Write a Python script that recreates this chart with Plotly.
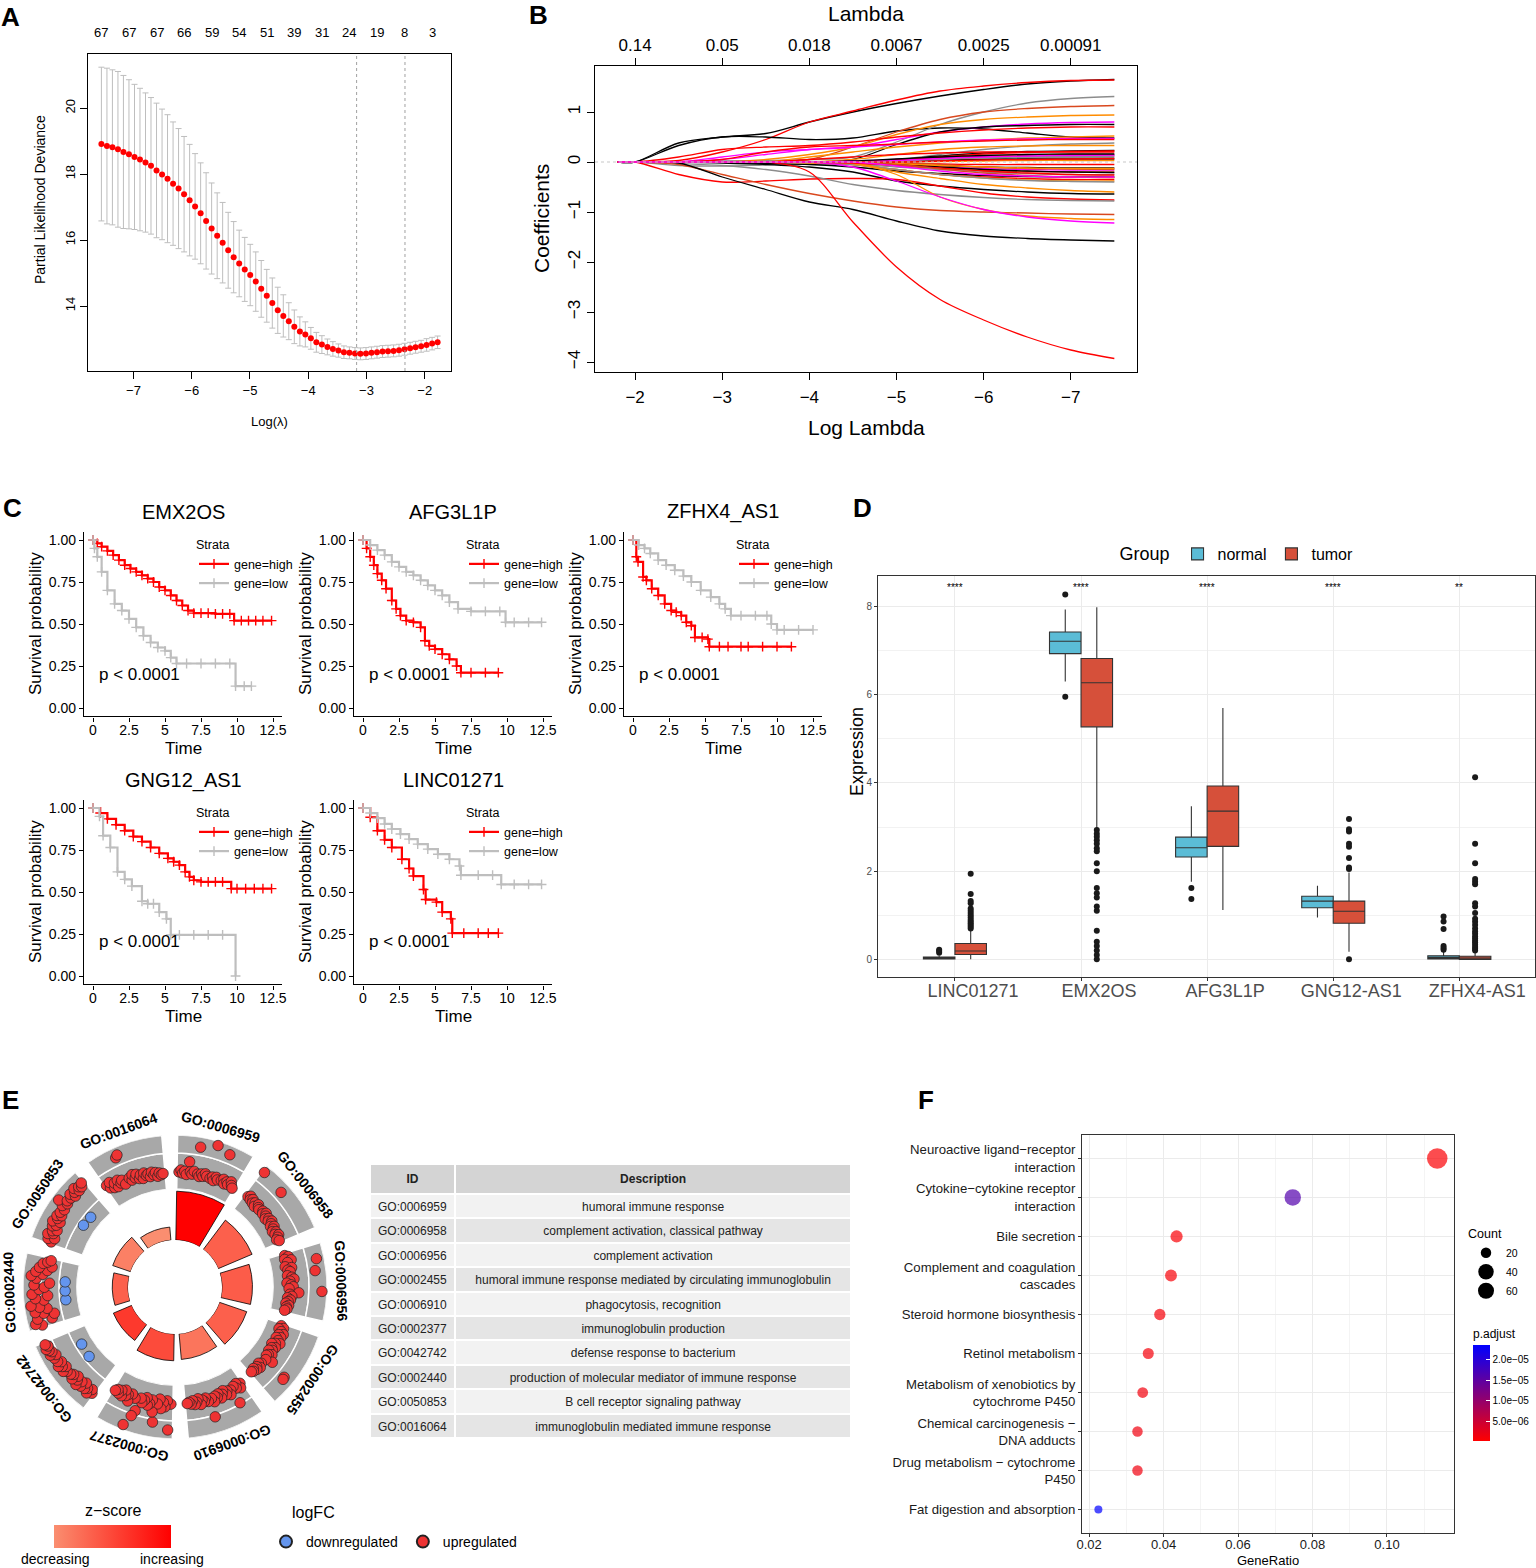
import numpy as np
import plotly.graph_objects as go

W, H = 1536, 1568
SANS = "Liberation Sans, Arial, sans-serif"


def fx(px):
    return px / W


def fy(py):
    return 1 - py / H


# ---------------- A: cross-validated partial likelihood deviance
A_LOGLAM = [-7.55, -7.455, -7.361, -7.266, -7.172, -7.077, -6.982, -6.888, -6.793, -6.699,
            -6.604, -6.509, -6.415, -6.32, -6.226, -6.131, -6.036, -5.942, -5.847, -5.753,
            -5.658, -5.563, -5.469, -5.374, -5.28, -5.185, -5.09, -4.996, -4.901, -4.807,
            -4.712, -4.617, -4.523, -4.428, -4.334, -4.239, -4.144, -4.05, -3.955, -3.861,
            -3.766, -3.671, -3.577, -3.482, -3.388, -3.293, -3.198, -3.104, -3.009, -2.915,
            -2.82, -2.725, -2.631, -2.536, -2.442, -2.347, -2.252, -2.158, -2.063, -1.969,
            -1.874, -1.78]
A_DEV = [18.91, 18.85, 18.81, 18.75, 18.67, 18.60, 18.52, 18.44, 18.35, 18.25,
         18.11, 17.99, 17.86, 17.71, 17.56, 17.39, 17.21, 17.02, 16.81, 16.58,
         16.35, 16.13, 15.92, 15.69, 15.48, 15.29, 15.11, 14.94, 14.74, 14.52,
         14.31, 14.09, 13.87, 13.70, 13.54, 13.37, 13.23, 13.14, 13.02, 12.90,
         12.83, 12.76, 12.70, 12.65, 12.60, 12.58, 12.56, 12.55, 12.56, 12.58,
         12.60, 12.62, 12.63, 12.64, 12.66, 12.69, 12.72, 12.75, 12.78, 12.82,
         12.86, 12.90]
A_SD = [2.33, 2.36, 2.35, 2.36, 2.32, 2.26, 2.20, 2.16, 2.11, 2.07,
        2.04, 1.98, 1.94, 1.87, 1.82, 1.75, 1.69, 1.60, 1.53, 1.46,
        1.38, 1.30, 1.22, 1.15, 1.08, 1.01, 0.97, 0.93, 0.90, 0.86,
        0.80, 0.76, 0.70, 0.64, 0.56, 0.51, 0.44, 0.38, 0.33, 0.30,
        0.27, 0.24, 0.22, 0.20, 0.19, 0.18, 0.18, 0.18, 0.18, 0.18,
        0.18, 0.18, 0.18, 0.18, 0.18, 0.18, 0.18, 0.18, 0.18, 0.19,
        0.19, 0.19]
A_NZERO = [67, 67, 67, 66, 59, 54, 51, 39, 31, 24, 19, 8, 3]
A_VLINES = [-3.17, -2.34]

# ---------------- B: coefficient paths
B_KNOTS = [-1.8, -2.0, -2.5, -3.0, -3.5, -4.0, -4.5, -5.0, -5.5, -6.0, -6.5, -7.0, -7.5]
B_PATHS = [
    [0, 0, 0.38, 0.5, 0.57, 0.8, 1.0, 1.17, 1.32, 1.45, 1.56, 1.62, 1.65],
    [0, 0, 0.03, 0.2, 0.45, 0.8, 1.02, 1.24, 1.42, 1.52, 1.59, 1.63, 1.64],
    [0, 0, 0.33, 0.5, 0.5, 0.45, 0.48, 0.62, 0.68, 0.66, 0.58, 0.5, 0.48],
    [0, 0, 0, 0.02, 0.03, 0.05, 0.1, 0.4, 0.75, 1.0, 1.18, 1.27, 1.31],
    [0, 0, 0, 0, 0, 0.05, 0.3, 0.6, 0.85, 1.0, 1.07, 1.11, 1.13],
    [0, 0, 0, 0, 0.05, 0.15, 0.3, 0.55, 0.75, 0.85, 0.9, 0.93, 0.94],
    [0, 0, 0, 0.1, 0.2, 0.25, 0.3, 0.45, 0.6, 0.7, 0.76, 0.79, 0.8],
    [0, 0, 0, 0, 0, 0, 0.05, 0.35, 0.6, 0.7, 0.73, 0.75, 0.75],
    [0, 0, 0.1, 0.25, 0.3, 0.33, 0.4, 0.5, 0.58, 0.64, 0.68, 0.7, 0.7],
    [0, 0, 0, 0, 0, 0.1, 0.2, 0.3, 0.38, 0.44, 0.48, 0.5, 0.52],
    [0, 0, 0, 0.05, 0.15, 0.25, 0.3, 0.35, 0.4, 0.44, 0.46, 0.47, 0.47],
    [0, 0, 0, 0.05, 0.2, 0.3, 0.33, 0.36, 0.4, 0.42, 0.44, 0.45, 0.45],
    [0, 0, 0, 0, 0, 0, 0, 0.05, 0.15, 0.25, 0.32, 0.36, 0.38],
    [0, 0, 0, 0, 0, 0, 0.05, 0.15, 0.25, 0.3, 0.32, 0.33, 0.33],
    [0, 0, 0, 0, 0, 0, 0, 0.05, 0.12, 0.18, 0.21, 0.22, 0.23],
    [0, 0, 0, 0, 0, 0.05, 0.1, 0.15, 0.18, 0.2, 0.2, 0.2, 0.2],
    [0, 0, 0, 0, 0, 0, 0, 0.03, 0.08, 0.12, 0.14, 0.15, 0.15],
    [0, 0, 0, 0, 0, 0, 0.02, 0.05, 0.08, 0.1, 0.11, 0.12, 0.12],
    [0, 0, 0, 0, 0, 0, 0, 0, 0.03, 0.06, 0.08, 0.09, 0.09],
    [0, 0, 0, 0, 0, 0, 0, 0.02, 0.04, 0.05, 0.06, 0.06, 0.06],
    [0, 0, 0, 0, 0, 0, 0, 0, 0.01, 0.02, 0.03, 0.03, 0.03],
    [0, 0, 0, 0, 0, 0, 0, -0.02, -0.04, -0.05, -0.05, -0.05, -0.05],
    [0, 0, 0, 0, 0, 0, -0.02, -0.05, -0.08, -0.1, -0.11, -0.12, -0.12],
    [0, 0, 0, 0, 0, 0, 0, -0.05, -0.1, -0.13, -0.15, -0.16, -0.16],
    [0, 0, 0, 0, 0, 0, -0.03, -0.08, -0.13, -0.17, -0.19, -0.2, -0.2],
    [0, 0, -0.07, -0.08, -0.06, -0.04, -0.05, -0.1, -0.15, -0.2, -0.23, -0.25, -0.25],
    [0, 0, 0, 0, -0.03, -0.05, -0.1, -0.18, -0.23, -0.27, -0.29, -0.3, -0.3],
    [0, 0, 0, 0, 0, 0, -0.05, -0.15, -0.25, -0.3, -0.33, -0.35, -0.35],
    [0, 0, 0, 0, 0, -0.02, -0.05, -0.15, -0.25, -0.32, -0.36, -0.38, -0.38],
    [0, 0, 0, 0, 0, 0, -0.05, -0.15, -0.25, -0.32, -0.37, -0.39, -0.4],
    [0, 0, 0, 0, 0, 0, -0.02, -0.2, -0.33, -0.45, -0.52, -0.57, -0.6],
    [0, 0, 0, -0.02, -0.05, -0.1, -0.2, -0.38, -0.48, -0.55, -0.6, -0.63, -0.64],
    [0, 0, -0.25, -0.4, -0.38, -0.34, -0.33, -0.35, -0.48, -0.62, -0.7, -0.74, -0.76],
    [0, 0, -0.03, -0.07, -0.15, -0.28, -0.45, -0.57, -0.65, -0.71, -0.75, -0.77, -0.78],
    [0, 0, -0.05, -0.25, -0.45, -0.63, -0.78, -0.9, -0.97, -1.0, -1.02, -1.04, -1.05],
    [0, 0, 0, 0, 0, 0, -0.03, -0.25, -0.7, -0.95, -1.08, -1.13, -1.15],
    [0, 0, 0, 0, 0, 0, -0.1, -0.38, -0.7, -0.95, -1.1, -1.18, -1.22],
    [0, 0, -0.02, -0.3, -0.55, -0.8, -0.95, -1.18, -1.38, -1.48, -1.53, -1.56, -1.58],
    [0, 0, 0, 0, 0, -0.2, -1.2, -2.1, -2.75, -3.16, -3.5, -3.76, -3.93],
    [0, 0, 0, 0, 0, 0, 0, 0.04, 0.1, 0.16, 0.19, 0.21, 0.22],
    [0, 0, 0, 0, 0, 0, 0, -0.04, -0.1, -0.15, -0.18, -0.2, -0.21],
    [0, 0, 0, 0, 0, 0, 0, 0, -0.05, -0.1, -0.13, -0.14, -0.15],
    [0, 0, 0, 0, 0, 0, 0, 0.02, 0.05, 0.08, 0.1, 0.11, 0.12],
    [0, 0, 0, 0, 0, 0, -0.02, -0.06, -0.12, -0.18, -0.22, -0.25, -0.26],
    [0, 0, 0, 0, 0, 0, 0, 0.03, 0.07, 0.1, 0.12, 0.13, 0.14],
    [0, 0, 0, 0, 0, 0, 0.02, 0.06, 0.1, 0.13, 0.15, 0.16, 0.16],
    [0, 0, 0, 0, 0, 0, 0, -0.03, -0.07, -0.1, -0.12, -0.13, -0.13],
    [0, 0, 0, 0, 0, 0, 0, 0, 0.02, 0.04, 0.05, 0.06, 0.07],
    [0, 0, 0, 0, 0, 0, 0, -0.05, -0.14, -0.22, -0.27, -0.3, -0.31],
    [0, 0, 0, 0, 0, 0, 0, -0.08, -0.18, -0.25, -0.28, -0.3, -0.3],
]
BK, RD, GY, OR, MG, OR2 = "black", "#FF0000", "#8C8C8C", "#FF8C00", "#FF00FF", "#D9481E"
B_COLORS = [BK, RD, BK, GY, OR2, OR, MG, BK, RD, OR, MG, RD, GY, OR, BK, RD, OR2, MG, GY, BK,
            OR, RD, BK, MG, OR2, GY, BK, RD, OR, GY, OR, BK, RD, GY, OR2, OR, MG, BK, RD,
            RD, BK, OR2, GY, RD, MG, BK, OR, RD, OR2, MG]
B_LAMBDA_TICKS = [-2, -3, -4, -5, -6, -7]

# ---------------- C: Kaplan-Meier curves
C_GENES = ["EMX2OS", "AFG3L1P", "ZFHX4_AS1", "GNG12_AS1", "LINC01271"]
C_HIGH_T = [
    [0, 0.3, 0.6, 1.0, 1.4, 1.8, 2.2, 2.6, 3.0, 3.4, 3.8, 4.2, 4.6, 5.0, 5.4, 5.8, 6.2, 6.6, 7.0, 7.5,
     8.0, 8.5, 9.0, 9.5, 9.8, 10.3, 10.8, 11.3, 11.8, 12.4],
    [0, 0.25, 0.5, 0.75, 1.0, 1.3, 1.6, 2.0, 2.3, 2.6, 3.0, 3.5, 4.0, 4.3, 4.6, 5.0, 5.5, 6.0, 6.5, 6.8,
     7.5, 8.5, 9.4],
    [0, 0.23, 0.35, 0.7, 0.93, 1.3, 1.75, 2.2, 2.65, 3.0, 3.35, 3.7, 4.05, 4.3, 4.8, 5.2, 5.3, 6.0, 6.6,
     7.5, 8.0, 9.0, 10.0, 11.0],
    [0, 0.5, 1.0, 1.6, 2.2, 2.8, 3.4, 4.0, 4.6, 5.2, 5.6, 6.0, 6.4, 6.7, 7.0, 7.5, 8.0, 8.5, 9.0, 9.6,
     10.0, 10.6, 11.2, 11.8, 12.4],
    [0, 0.5, 1.0, 1.5, 2.0, 2.7, 3.2, 3.5, 4.2, 4.35, 5.1, 5.5, 6.1, 6.2, 7.0, 8.0, 8.7, 9.4],
]
C_HIGH_S = [
    [1.0, 0.98, 0.96, 0.935, 0.91, 0.88, 0.85, 0.83, 0.81, 0.79, 0.77, 0.75, 0.72, 0.70, 0.67, 0.64,
     0.61, 0.58, 0.565, 0.565, 0.565, 0.56, 0.56, 0.56, 0.52, 0.52, 0.52, 0.52, 0.52, 0.52],
    [1.0, 0.95, 0.90, 0.85, 0.80, 0.76, 0.71, 0.64, 0.59, 0.55, 0.52, 0.51, 0.48, 0.40, 0.37, 0.35,
     0.32, 0.29, 0.25, 0.21, 0.21, 0.21, 0.21],
    [1.0, 0.90, 0.87, 0.78, 0.76, 0.71, 0.67, 0.62, 0.58, 0.57, 0.55, 0.51, 0.49, 0.42, 0.42, 0.41,
     0.365, 0.365, 0.365, 0.365, 0.365, 0.365, 0.365, 0.365],
    [1.0, 0.97, 0.935, 0.90, 0.865, 0.83, 0.80, 0.765, 0.73, 0.70, 0.68, 0.66, 0.62, 0.59, 0.57, 0.56,
     0.56, 0.56, 0.56, 0.52, 0.52, 0.52, 0.52, 0.52, 0.52],
    [1.0, 0.945, 0.865, 0.81, 0.765, 0.695, 0.64, 0.595, 0.515, 0.455, 0.44, 0.38, 0.34, 0.255, 0.255,
     0.255, 0.255, 0.255],
]
C_LOW_T = [
    [0, 0.1, 0.3, 0.6, 1.0, 1.5, 2.0, 2.5, 3.0, 3.5, 4.0, 4.5, 5.0, 5.4, 5.8, 6.5, 7.5, 8.5, 9.5, 9.9,
     10.5, 11.0],
    [0, 0.5, 1.0, 1.5, 2.0, 2.5, 3.0, 3.5, 4.0, 4.5, 5.0, 5.5, 6.0, 6.6, 7.5, 8.5, 9.5, 9.9, 10.5, 11.5,
     12.4],
    [0, 0.4, 0.8, 1.2, 1.75, 2.3, 2.9, 3.5, 4.05, 4.7, 5.4, 6.0, 6.4, 6.8, 7.5, 8.5, 9.3, 9.6, 10.0,
     10.5, 11.5, 12.5],
    [0, 0.45, 0.7, 1.2, 1.7, 2.2, 2.7, 3.4, 3.8, 4.2, 4.6, 5.1, 5.4, 6.0, 7.0, 8.0, 9.0, 9.9],
    [0, 0.5, 1.0, 1.5, 2.0, 2.6, 3.2, 3.8, 4.5, 5.2, 6.0, 6.7, 6.8, 8.0, 9.0, 9.6, 10.5, 11.5, 12.4],
]
C_LOW_S = [
    [1.0, 0.95, 0.90, 0.81, 0.70, 0.62, 0.58, 0.53, 0.48, 0.43, 0.39, 0.36, 0.34, 0.30, 0.265, 0.265,
     0.265, 0.265, 0.265, 0.13, 0.13, 0.13],
    [1.0, 0.97, 0.94, 0.91, 0.87, 0.84, 0.81, 0.79, 0.76, 0.73, 0.70, 0.67, 0.63, 0.59, 0.575, 0.575,
     0.575, 0.51, 0.51, 0.51, 0.51],
    [1.0, 0.97, 0.95, 0.92, 0.88, 0.85, 0.82, 0.785, 0.75, 0.70, 0.66, 0.62, 0.59, 0.55, 0.55, 0.55,
     0.55, 0.50, 0.465, 0.465, 0.465, 0.465],
    [1.0, 0.95, 0.835, 0.765, 0.62, 0.575, 0.535, 0.445, 0.43, 0.43, 0.38, 0.34, 0.245, 0.245, 0.245,
     0.245, 0.245, 0.0],
    [1.0, 0.97, 0.94, 0.905, 0.875, 0.845, 0.815, 0.785, 0.755, 0.725, 0.695, 0.655, 0.60, 0.60, 0.60,
     0.545, 0.545, 0.545, 0.545],
]
C_PVAL = "p < 0.0001"

# ---------------- D: expression boxplots
D_GENES = ["LINC01271", "EMX2OS", "AFG3L1P", "GNG12-AS1", "ZFHX4-AS1"]
D_NORMAL_Q1 = [0.01, 6.93, 2.32, 1.17, 0.01]
D_NORMAL_MED = [0.03, 7.21, 2.53, 1.32, 0.04]
D_NORMAL_Q3 = [0.05, 7.42, 2.77, 1.43, 0.08]
D_NORMAL_LO = [0.0, 6.30, 1.76, 0.95, 0.0]
D_NORMAL_HI = [0.08, 7.93, 3.47, 1.67, 0.18]
D_TUMOR_Q1 = [0.11, 5.27, 2.56, 0.82, 0.0]
D_TUMOR_MED = [0.19, 6.27, 3.36, 1.09, 0.03]
D_TUMOR_Q3 = [0.36, 6.82, 3.93, 1.32, 0.07]
D_TUMOR_LO = [0.0, 2.95, 1.12, 0.17, 0.0]
D_TUMOR_HI = [0.66, 7.98, 5.70, 1.97, 0.17]
D_NORMAL_OUT = [[0.15, 0.19, 0.22], [8.27, 5.95], [1.62, 1.37], [], [0.22, 0.26, 0.3, 0.69, 0.86, 0.97]]
D_TUMOR_OUT = [
    [0.7, 0.74, 0.78, 0.82, 0.86, 0.9, 0.95, 1.0, 1.05, 1.1, 1.15, 1.27, 1.32, 1.48, 1.94],
    [2.93, 2.85, 2.78, 2.7, 2.62, 2.52, 2.45, 2.18, 2.0, 1.62, 1.5, 1.4, 1.2, 1.1, 0.65, 0.4, 0.3, 0.2,
     0.1, 0.0],
    [],
    [0.0, 2.05, 2.08, 2.3, 2.55, 2.62, 2.9, 2.95, 3.18],
    [0.2, 0.24, 0.28, 0.33, 0.38, 0.42, 0.47, 0.52, 0.58, 0.63, 0.7, 0.78, 0.85, 0.92, 1.05, 1.2, 1.27,
     1.7, 1.76, 1.82, 2.18, 2.62, 4.13],
]
D_SIGNIF = ["****", "****", "****", "****", "**"]
D_SIGNIF_Y = 8.44

# ---------------- E: GO circle + table
E_IDS = ["GO:0006959", "GO:0006958", "GO:0006956", "GO:0002455", "GO:0006910",
         "GO:0002377", "GO:0042742", "GO:0002440", "GO:0050853", "GO:0016064"]
E_DESC = ["humoral immune response", "complement activation, classical pathway",
          "complement activation", "humoral immune response mediated by circulating immunoglobulin",
          "phagocytosis, recognition", "immunoglobulin production", "defense response to bacterium",
          "production of molecular mediator of immune response", "B cell receptor signaling pathway",
          "immunoglobulin mediated immune response"]
E_NEGLOGP = [9.3, 7.0, 5.8, 5.5, 4.9, 5.1, 3.8, 3.0, 3.6, 2.5]
E_ZSCORE = [8.6, 5.9, 6.0, 5.9, 5.3, 6.5, 7.0, 5.9, 5.0, 4.6]
E_LFC = [
    [0.4, 0.6, 0.3, 0.5, 0.2, 1.45, 0.5, 0.3, 0.6, 3.0, 0.4, 0.2, 0.5, 0.3, 0.6, 0.4, 3.55, 0.3, 0.5,
     0.2, 0.6, 0.4, 3.1, 0.5, 0.7, 0.3, 0.6, 0.4, 0.8, 0.5, 0.3],
    [3.3, 0.5, 0.7, 0.4, 0.6, 0.3, 0.5, 0.2, 0.6, 0.4, 0.3, 3.0, 0.5, 0.3, 0.6, 0.4, 0.2, 0.5, 0.3,
     0.6, 0.4, 0.2, 0.5, 0.3, 0.1, 0.4, 0.2, 0.5, 0.3, 0.1, 0.3],
    [0.3, 0.6, 0.2, 0.8, 0.4, 3.2, 0.1, 0.7, 0.3, 0.5, 2.9, 0.2, 0.6, 0.8, 0.4, 0.1, 0.5, 0.7, 0.3,
     3.47, 1.25, 0.4, 0.6, 0.2, 0.5, 0.3, 0.1, 0.4, 0.2, 0.3, 0.1],
    [0.2, 0.5, 0.1, 0.4, 0.7, 0.3, 0.6, 0.2, 0.5, 0.8, 0.4, 0.1, 0.6, 0.3, 0.5, 0.2, 0.7, 0.4, 0.3,
     1.16, 0.5, 2.95, 3.0, 0.4, 0.2, 0.6, 0.3, 0.5, 0.2, 0.4, 0.3],
    [0.5, 0.9, 0.3, 0.7, 0.4, 2.1, 0.6, 1.0, 0.5, 0.8, 0.3, 0.6, 0.9, 0.4, 0.7, 0.5, 1.0, 0.6, 2.4,
     0.8, 0.4, 0.7, 0.5, 0.9, 0.3, 0.6, 0.8, 0.4, 0.7, 0.5, 0.6],
    [0.6, 3.1, 0.3, 0.9, 0.5, 1.1, 0.2, 0.7, 2.5, 1.54, 0.4, 0.8, 1.0, 0.3, 0.6, 0.9, 0.5, 1.83, 2.4,
     0.7, 3.47, 0.4, 1.2, 0.6, 0.8, 0.3, 1.0, 0.5, 0.9, 0.6, 0.8],
    [2.3, 2.0, 2.6, 2.2, 2.4, 1.9, 2.5, 2.1, 2.7, 2.3, 2.0, 2.6, 2.2, 2.4, -0.05, 2.5, 2.8, 2.3, 2.6,
     2.9, 2.4, 2.7, -0.15, 2.8, 2.5, 3.0, 2.7, 2.9, 3.1, 2.8, 3.0],
    [2.6, 3.2, 1.5, 2.9, 1.2, 2.2, 3.0, 1.8, 2.5, 3.3, -0.1, 2.0, 2.8, 1.6, 3.1, -0.1, 2.4, 1.9, 2.9,
     1.4, -0.1, 2.7, 3.2, 2.1, 2.8, 1.7, 2.5, 1.3, 2.2, 1.8, 1.5],
    [2.0, 2.4, 1.8, 2.6, 2.1, 2.3, 1.9, 2.5, 2.2, 2.7, 2.0, 2.4, 2.6, 2.2, 2.5, -0.05, 2.3, 2.7, 3.3,
     2.4, 2.6, -0.15, 2.5, 2.8, 2.3, 2.6, 2.9, 2.4, 2.7, 2.5, 2.8],
    [1.1, 0.7, 1.2, 0.5, 0.9, 0.4, 1.0, 0.6, 0.8, 0.3, 3.0, 3.2, 0.7, 0.4, 0.9, 0.5, 0.8, 0.3, 0.6,
     0.2, 0.7, 0.4, 0.5, 0.2, 0.6, 0.3, 0.5, 0.1, 0.4, 0.2, 0.3],
]
E_LFC_RANGE = [-1.25, 3.95]

# ---------------- F: KEGG dot plot
F_TERMS = ["Neuroactive ligand−receptor<br>interaction", "Cytokine−cytokine receptor<br>interaction",
           "Bile secretion", "Complement and coagulation<br>cascades", "Steroid hormone biosynthesis",
           "Retinol metabolism", "Metabolism of xenobiotics by<br>cytochrome P450",
           "Chemical carcinogenesis −<br>DNA adducts", "Drug metabolism − cytochrome<br>P450",
           "Fat digestion and absorption"]
F_RATIO = [0.1135, 0.0747, 0.0435, 0.0420, 0.0390, 0.0359, 0.0344, 0.0330, 0.0330, 0.0225]
F_COUNT = [68, 45, 26, 25, 23, 22, 21, 20, 20, 13]
F_PADJ = [6.0e-7, 1.6e-5, 8.0e-7, 9.0e-7, 1.0e-6, 1.2e-6, 1.4e-6, 1.5e-6, 1.5e-6, 2.35e-5]
F_COUNT_BREAKS = [20, 40, 60]
F_PADJ_TICKS = [5e-6, 1e-5, 1.5e-5, 2e-5]

fig = go.Figure()
annotations = []
shapes = []
layout = dict(width=W, height=H, margin=dict(l=0, r=0, t=0, b=0), template="none",
              paper_bgcolor="white", plot_bgcolor="rgba(0,0,0,0)",
              font=dict(family=SANS, color="black"), showlegend=True)


def text(px, py, s, size, angle=0, xanchor="center", color="black"):
    annotations.append(dict(x=fx(px), y=fy(py), xref="paper", yref="paper", text=s, showarrow=False,
                            font=dict(size=size, family=SANS, color=color), textangle=angle,
                            xanchor=xanchor, yanchor="middle"))


def base_axis(**kw):
    d = dict(showgrid=False, zeroline=False, showline=True, linecolor="black", linewidth=1,
             ticks="outside", tickcolor="black", ticklen=7)
    d.update(kw)
    return d


# panel letters
for letter, px, py in [("A", 10, 17), ("B", 538, 15), ("C", 12, 508), ("D", 862, 508),
                       ("E", 10, 1100), ("F", 926, 1100)]:
    text(px, py, "<b>%s</b>" % letter, 26)

# ================= A
fig.add_trace(go.Scatter(x=A_LOGLAM, y=A_DEV, mode="markers", xaxis="x", yaxis="y",
                         marker=dict(color="red", size=6),
                         error_y=dict(type="data", array=A_SD, color="#BEBEBE", thickness=1, width=3),
                         showlegend=False))
layout["xaxis"] = base_axis(domain=[fx(88), fx(451)], range=[-7.78, -1.55], anchor="y", mirror=True,
                            tickvals=[-7, -6, -5, -4, -3, -2], tickfont=dict(size=13))
layout["yaxis"] = base_axis(domain=[fy(371), fy(54)], range=[12.03, 21.64], anchor="x", mirror=True,
                            tickvals=[14, 16, 18, 20], tickangle=-90, tickfont=dict(size=13))
for v in A_VLINES:
    shapes.append(dict(type="line", xref="x", yref="y domain", x0=v, x1=v, y0=0, y1=1,
                       line=dict(color="#A0A0A0", width=1, dash="dot")))
for xv, n in zip(A_LOGLAM[::5], A_NZERO):
    annotations.append(dict(x=xv, y=fy(32), xref="x", yref="paper", text=str(n), showarrow=False,
                            yanchor="middle", font=dict(size=13)))
text(269, 422, "Log(λ)", 13)
text(40, 200, "Partial Likelihood Deviance", 14, angle=-90)

# ================= B
for path, col in zip(B_PATHS, B_COLORS):
    fig.add_trace(go.Scatter(x=B_KNOTS, y=path, mode="lines", xaxis="x2", yaxis="y2",
                             line=dict(color=col, width=1.3, shape="spline", smoothing=0.9),
                             showlegend=False, hoverinfo="skip"))
fig.add_trace(go.Scatter(x=[None], y=[None], xaxis="x3", yaxis="y2", showlegend=False))
layout["xaxis2"] = base_axis(domain=[fx(595), fx(1137)], range=[-1.54, -7.76], anchor="y2", mirror=True,
                             tickvals=B_LAMBDA_TICKS, tickfont=dict(size=17), ticklabelstandoff=3)
layout["yaxis2"] = base_axis(domain=[fy(372), fy(66)], range=[-4.2, 1.92], anchor="x2", mirror=True,
                             tickvals=[-4, -3, -2, -1, 0, 1], tickangle=-90, tickfont=dict(size=17))
layout["xaxis3"] = base_axis(overlaying="x2", side="top", anchor="y2", range=[-1.54, -7.76], showline=False,
                             tickvals=B_LAMBDA_TICKS,
                             ticktext=["%.2g" % np.exp(v) for v in B_LAMBDA_TICKS], tickfont=dict(size=17))
shapes.append(dict(type="line", xref="x2 domain", yref="y2", x0=0, x1=1, y0=0, y1=0,
                   line=dict(color="#C8C8C8", width=1.2, dash="dot")))
text(866, 14, "Lambda", 21)
text(866, 427, "Log Lambda", 21)
text(541, 219, "Coefficients", 21, angle=-90)

# ================= C
for k, gene in enumerate(C_GENES):
    c, r = k % 3, k // 3
    ax = 4 + k
    lg = "legend%d" % (2 + k)
    for tt, ss, col, name in [(C_HIGH_T[k], C_HIGH_S[k], "#FF0000", "gene=high"),
                              (C_LOW_T[k], C_LOW_S[k], "#BEBEBE", "gene=low")]:
        fig.add_trace(go.Scatter(x=tt, y=ss, mode="lines+markers", xaxis="x%d" % ax, yaxis="y%d" % ax,
                                 line=dict(color=col, width=2.2, shape="hv"), name=name, legend=lg,
                                 marker=dict(symbol="cross-thin", size=7, line=dict(width=1.4, color=col))))
    layout["xaxis%d" % ax] = base_axis(domain=[fx(84 + 270 * c), fx(282 + 270 * c)], range=[-0.625, 13.125],
                                       anchor="y%d" % ax, ticklen=4, linewidth=1.2,
                                       tickvals=[0, 2.5, 5, 7.5, 10, 12.5],
                                       ticktext=["0", "2.5", "5", "7.5", "10", "12.5"],
                                       tickfont=dict(size=14), ticklabelstandoff=-3)
    layout["yaxis%d" % ax] = base_axis(domain=[fy(716.4 + 268 * r), fy(531.6 + 268 * r)], range=[-0.05, 1.05],
                                       anchor="x%d" % ax, ticklen=4, linewidth=1.2,
                                       tickvals=[0, 0.25, 0.5, 0.75, 1],
                                       ticktext=["0.00", "0.25", "0.50", "0.75", "1.00"],
                                       tickfont=dict(size=14))
    layout[lg] = dict(x=fx(194 + 270 * c), y=fy(533 + 268 * r), xanchor="left", yanchor="top",
                      bgcolor="rgba(0,0,0,0)", font=dict(size=12.5), itemwidth=30,
                      title=dict(text="Strata", font=dict(size=12.5)), tracegroupgap=0)
    text(183 + 270 * c, 512 + 268 * r, gene, 20)
    text(183 + 270 * c, 748 + 268 * r, "Time", 17)
    text(35 + 270 * c, 624 + 268 * r, "Survival probability", 17, angle=-90)
    text(97 + 270 * c, 674 + 268 * r, C_PVAL, 17, xanchor="left")

# ================= D
D_OFF = 0.125
for grp, off, col, q1, med, q3, lo, hi, outs in [
        ("normal", -D_OFF, "#5BBCD6", D_NORMAL_Q1, D_NORMAL_MED, D_NORMAL_Q3, D_NORMAL_LO, D_NORMAL_HI,
         D_NORMAL_OUT),
        ("tumor", D_OFF, "#D6503A", D_TUMOR_Q1, D_TUMOR_MED, D_TUMOR_Q3, D_TUMOR_LO, D_TUMOR_HI,
         D_TUMOR_OUT)]:
    pos = [i + off for i in range(len(D_GENES))]
    fig.add_trace(go.Box(x=pos, q1=q1, median=med, q3=q3, lowerfence=lo, upperfence=hi, width=0.25,
                         fillcolor=col, line=dict(color="#333333", width=1.1), whiskerwidth=0,
                         boxpoints=False, name=grp, xaxis="x9", yaxis="y9", legend="legend"))
    ox = [i + off for i, o in enumerate(outs) for _ in o]
    oy = [v for o in outs for v in o]
    fig.add_trace(go.Scatter(x=ox, y=oy, mode="markers", xaxis="x9", yaxis="y9", showlegend=False,
                             marker=dict(color="#1A1A1A", size=6)))
for i, s in enumerate(D_SIGNIF):
    annotations.append(dict(x=i, y=D_SIGNIF_Y, xref="x9", yref="y9", text=s, showarrow=False,
                            font=dict(size=10, color="black")))
layout["xaxis9"] = dict(domain=[fx(878), fx(1535)], range=[-0.61, 4.6], anchor="y9", tickvals=list(range(5)),
                        ticktext=D_GENES, showgrid=True, gridcolor="#EBEBEB", zeroline=False, showline=True,
                        mirror=True, linecolor="#333333", linewidth=1, ticks="outside", ticklen=3,
                        tickcolor="#333333", tickfont=dict(size=18, color="#4D4D4D"),
                        ticklabelshift=18, ticklabelstandoff=-6)
layout["yaxis9"] = dict(domain=[fy(977), fy(576)], range=[-0.40, 8.69], anchor="x9", tickvals=[0, 2, 4, 6, 8],
                        showgrid=True, gridcolor="#EBEBEB", zeroline=False, showline=True, mirror=True,
                        linecolor="#333333", linewidth=1, ticks="outside", ticklen=3, tickcolor="#333333",
                        tickfont=dict(size=10, color="#4D4D4D"),
                        minor=dict(dtick=1, showgrid=True, gridcolor="#F2F2F2", gridwidth=0.6))
layout["legend"] = dict(orientation="h", x=fx(1238), xanchor="center", y=fy(537), yanchor="top",
                        font=dict(size=16), bgcolor="rgba(0,0,0,0)", itemwidth=30,
                        title=dict(text="Group", font=dict(size=18)))
text(857, 752, "Expression", 18, angle=-90)

# ================= E
E_CX, E_CY, E_R = 175, 1287, 152
theta_c = [36 * i + 16 for i in range(len(E_IDS))]
polar_dom = dict(x=[fx(E_CX - E_R), fx(E_CX + E_R)], y=[fy(E_CY + E_R), fy(E_CY - E_R)])
ang = dict(rotation=90, direction="clockwise", visible=False)
layout["polar"] = dict(domain=polar_dom, hole=47 / 152, bgcolor="rgba(0,0,0,0)",
                       radialaxis=dict(range=[0, 20], visible=False), angularaxis=ang)
layout["polar2"] = dict(domain=polar_dom, hole=98 / 152, bgcolor="rgba(0,0,0,0)",
                        radialaxis=dict(range=E_LFC_RANGE, visible=False), angularaxis=ang)
fig.add_trace(go.Barpolar(theta=theta_c, r=E_NEGLOGP, base=0, width=30, subplot="polar", showlegend=False,
                          marker=dict(color=E_ZSCORE, colorscale=[[0, "#FA8E70"], [1, "#FF0000"]],
                                      cmin=min(E_ZSCORE), cmax=max(E_ZSCORE),
                                      line=dict(color="black", width=0.8), showscale=True,
                                      colorbar=dict(orientation="h", x=fx(113), xanchor="center",
                                                    y=fy(1548), yanchor="bottom", len=117, lenmode="pixels",
                                                    thickness=23, xpad=0, ypad=0, outlinewidth=0,
                                                    showticklabels=False, ticks=""))))
band = (E_LFC_RANGE[1] - E_LFC_RANGE[0]) / 3
for j in range(3):
    fig.add_trace(go.Barpolar(theta=theta_c, r=[band] * len(theta_c),
                              base=[E_LFC_RANGE[0] + j * band] * len(theta_c), width=30, subplot="polar2",
                              marker=dict(color="#A8A8A8", line=dict(color="white", width=1.5)),
                              showlegend=False, hoverinfo="skip"))
pts = {"down": ([], []), "up": ([], [])}
for i, vals in enumerate(E_LFC):
    n = len(vals)
    for k, v in enumerate(vals):
        th = 36 * i + 2 + k * 28 / (n - 1)
        key = "down" if v < 0 else "up"
        pts[key][0].append(th)
        pts[key][1].append(v)
for key, col, name in [("up", "#EE3333", "upregulated"), ("down", "#6495ED", "downregulated")]:
    fig.add_trace(go.Scatterpolar(theta=pts[key][0], r=pts[key][1], mode="markers", subplot="polar2",
                                  name=name, legend="legend7",
                                  marker=dict(color=col, size=10.5, line=dict(color="#222222", width=0.7))))
for gid, th in zip(E_IDS, theta_c):
    t = np.radians(th)
    ta = th if th <= 180 else th - 360
    text(E_CX + 166 * np.sin(t), E_CY - 166 * np.cos(t), "<b>%s</b>" % gid, 14, angle=ta)
text(113, 1510, "z−score", 16)
text(55, 1559, "decreasing", 14)
text(172, 1559, "increasing", 14)
text(313, 1512, "logFC", 16)
layout["legend7"] = dict(orientation="h", x=fx(266), xanchor="left", y=fy(1526), yanchor="top",
                         traceorder="reversed", itemsizing="constant", bgcolor="rgba(0,0,0,0)",
                         font=dict(size=14))

row_cols = ["#F2F2F2" if i % 2 == 0 else "#E5E5E5" for i in range(len(E_IDS))]
fig.add_trace(go.Table(domain=dict(x=[fx(370), fx(851)], y=[fy(1438), fy(1164)]), columnwidth=[85, 395],
                       header=dict(values=["<b>ID</b>", "<b>Description</b>"], fill_color="#D4D4D4",
                                   align="center", height=20, line=dict(color="white", width=2),
                                   font=dict(size=12, color="#222222")),
                       cells=dict(values=[E_IDS, E_DESC], fill_color=[row_cols, row_cols],
                                  align=["left", "center"], height=24.4, line=dict(color="white", width=2),
                                  font=dict(size=12, color="#222222"))))


# ================= F
def size_px(c, cmin=min(F_COUNT), cmax=max(F_COUNT), dmin=8.0, dmax=20.5):
    return float(np.sqrt(dmin ** 2 + (c - cmin) / (cmax - cmin) * (dmax ** 2 - dmin ** 2)))


fig.add_trace(go.Scatter(x=F_RATIO, y=F_TERMS, mode="markers", xaxis="x10", yaxis="y10", showlegend=False,
                         marker=dict(size=[size_px(c) for c in F_COUNT], color=F_PADJ,
                                     colorscale=[[0, "#FF0000"], [1, "#0000FF"]], cmin=2.5e-7, cmax=2.35e-5,
                                     line=dict(width=0), showscale=True,
                                     colorbar=dict(x=fx(1473), xanchor="left", y=fy(1441), yanchor="bottom",
                                                   len=115, lenmode="pixels", thickness=17, xpad=0, ypad=0,
                                                   outlinewidth=0, tickvals=F_PADJ_TICKS,
                                                   ticktext=["5.0e−06", "1.0e−05", "1.5e−05", "2.0e−05"],
                                                   ticks="inside", tickcolor="white", ticklen=4,
                                                   tickfont=dict(size=10),
                                                   title=dict(text="p.adjust", side="top",
                                                              font=dict(size=12))))))
for b in F_COUNT_BREAKS:
    fig.add_trace(go.Scatter(x=[None], y=[None], mode="markers", xaxis="x10", yaxis="y10", name=str(b),
                             legend="legend8", marker=dict(size=size_px(b), color="black")))
layout["xaxis10"] = dict(domain=[fx(1082), fx(1454)], range=[0.0181, 0.118], anchor="y10",
                         tickvals=[0.02, 0.04, 0.06, 0.08, 0.10], ticktext=["0.02", "0.04", "0.06", "0.08", "0.10"],
                         showgrid=True, gridcolor="#EBEBEB", zeroline=False, showline=True, mirror=True,
                         linecolor="#333333", linewidth=1, ticks="outside", ticklen=3, tickcolor="#333333",
                         tickfont=dict(size=13, color="#1A1A1A"), ticklabelstandoff=-4,
                         minor=dict(dtick=0.01, showgrid=True, gridcolor="#F4F4F4", gridwidth=0.6))
layout["yaxis10"] = dict(domain=[fy(1533), fy(1135)], type="category", categoryorder="array",
                         categoryarray=F_TERMS, range=[len(F_TERMS) - 0.4, -0.6], anchor="x10",
                         showgrid=True, gridcolor="#EBEBEB", zeroline=False, showline=True, mirror=True,
                         linecolor="#333333", linewidth=1, ticks="outside", ticklen=3, tickcolor="#333333",
                         tickfont=dict(size=13.2, color="#1A1A1A"))
layout["legend8"] = dict(x=fx(1466), xanchor="left", y=fy(1222), yanchor="top", itemsizing="trace",
                         bgcolor="rgba(0,0,0,0)", font=dict(size=10.5), itemwidth=30,
                         title=dict(text="Count", font=dict(size=12.5)))
text(1268, 1560, "GeneRatio", 13)

layout["annotations"] = annotations
layout["shapes"] = shapes
fig.update_layout(**layout)
fig.write_html("out.html", config={"displayModeBar": False},
               post_script="document.body.style.margin='0px';")
